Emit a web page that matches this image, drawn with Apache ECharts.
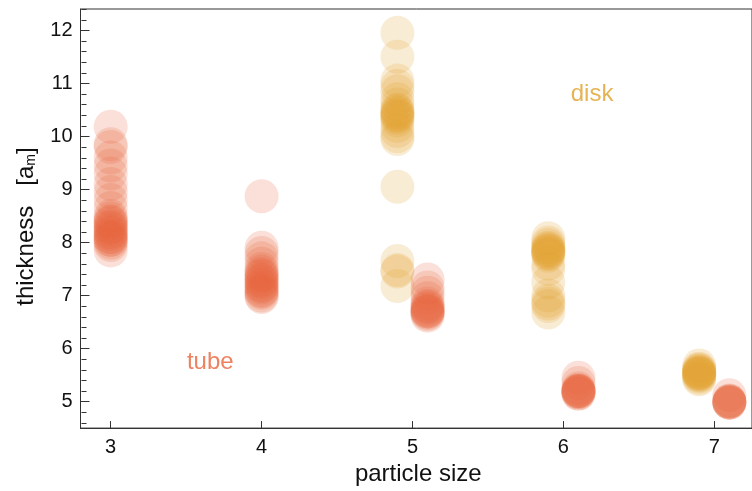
<!DOCTYPE html>
<html>
<head>
<meta charset="utf-8">
<script src="https://cdn.jsdelivr.net/npm/echarts@6/dist/echarts.min.js"></script>
<style>
    html, body { margin: 0; padding: 0; background: #fff; }
    #chart { width: 752px; height: 491px; }
</style>
</head>
<body>
<div id="chart"></div>
<script>
// tube points, one array per particle size
const tubeSizes = [3, 4, 5.1, 6.1, 7.1];
const tubeAt3 = [10.18, 9.85, 9.8, 9.6, 9.45, 9.3, 9.1, 8.95, 8.8, 8.65, 8.5, 8.45, 8.4, 8.38, 8.35, 8.3, 8.28, 8.25, 8.2, 8.18, 8.15, 8.1, 8.1, 8.05, 8.05, 8.0, 7.95, 7.85];
const tubeAt4 = [8.87, 7.9, 7.8, 7.7, 7.6, 7.5, 7.45, 7.4, 7.38, 7.35, 7.3, 7.28, 7.25, 7.2, 7.18, 7.15, 7.1, 7.08, 7.05, 7.0, 6.97];
const tubeAt5 = [7.3, 7.15, 7.05, 6.95, 6.85, 6.8, 6.78, 6.75, 6.72, 6.7, 6.7, 6.68, 6.65, 6.62];
const tubeAt6 = [5.45, 5.35, 5.25, 5.22, 5.2, 5.2, 5.2, 5.18, 5.18, 5.15, 5.15];
const tubeAt7 = [5.12, 5.02, 5.0, 5.0, 5.0, 4.98, 4.98, 4.98];

// disk points
const diskSizes = [4.9, 5.9, 6.9];
const diskAt5 = [11.95, 11.5, 11.05, 10.95, 10.85, 10.7, 10.6, 10.5, 10.48, 10.45, 10.42, 10.4, 10.38, 10.35, 10.3, 10.2, 10.1, 10.0, 9.95, 9.05, 7.65, 7.48, 7.45, 7.18];
const diskAt6 = [8.08, 8.0, 7.95, 7.9, 7.88, 7.85, 7.85, 7.82, 7.8, 7.78, 7.75, 7.6, 7.5, 7.25, 7.0, 6.9, 6.85, 6.8, 6.68];
const diskAt7 = [5.68, 5.62, 5.6, 5.58, 5.56, 5.55, 5.54, 5.53, 5.52, 5.5, 5.48, 5.45, 5.42];

// axes
const xRange = [2.8, 7.25];
const yRange = [4.5, 12.4];
const xTicks = [3, 4, 5, 6, 7];
const yTicks = [5, 6, 7, 8, 9, 10, 11, 12];

// annotations
const labelDisk = { text: 'disk', pos: [6.19, 10.8] };
const labelTube = { text: 'tube', pos: [3.66, 5.73] };

const tubeColor = '#e8633a';
const diskColor = '#e0a02c';
const font = 'Liberation Sans, Arial, Helvetica, sans-serif';

function toPoints (sizes, groups) {
    let out = [];
    sizes.forEach((x, i) => {
        groups[i].forEach(y => out.push([x, y]));
    });
    return out;
}

// minor ticks every 0.2 (drawn by a custom series on the left axis)
let yMinor = [];
for (let v = 46; v <= 124; v += 2) {
    if (v % 10 !== 0) {
        yMinor.push([xRange[0], v / 10]);
    }
}

const chart = echarts.init(document.getElementById('chart'));

chart.setOption({
    animation: false,
    textStyle: { fontFamily: font },
    grid: {
        left: 80.5, right: -1, top: 9, bottom: 61,
        show: true, borderColor: '#333', borderWidth: 1
    },
    xAxis: {
        type: 'value',
        min: xRange[0], max: xRange[1],
        name: 'particle size',
        nameLocation: 'middle',
        nameGap: 32,
        nameTextStyle: { fontSize: 24, color: '#111', fontFamily: font, padding: [0, 0, 0, 4] },
        splitLine: { show: false },
        axisLine: { lineStyle: { color: '#333' } },
        axisTick: { inside: true, length: 7, customValues: xTicks, lineStyle: { color: '#333' } },
        axisLabel: { customValues: xTicks, fontSize: 20, color: '#111', margin: 9, fontFamily: font }
    },
    yAxis: {
        type: 'value',
        min: yRange[0], max: yRange[1],
        name: 'thickness   [a{sub|m}]',
        nameLocation: 'middle',
        nameGap: 42,
        nameRotate: 90,
        nameTextStyle: {
            fontSize: 24, color: '#111', fontFamily: font,
            padding: [0, 16, 0, 0],
            rich: { sub: { fontSize: 14, color: '#111', padding: [10, 0, 0, 0], fontFamily: font } }
        },
        splitLine: { show: false },
        axisLine: { lineStyle: { color: '#333' } },
        axisTick: { inside: true, length: 9, customValues: yTicks, lineStyle: { color: '#333' } },
        axisLabel: { customValues: yTicks, fontSize: 20, color: '#111', margin: 8, fontFamily: font }
    },
    series: [{
        type: 'scatter',
        data: toPoints(diskSizes, [diskAt5, diskAt6, diskAt7]),
        symbolSize: 34,
        itemStyle: { color: diskColor, opacity: 0.2 }
    }, {
        type: 'scatter',
        data: toPoints(tubeSizes, [tubeAt3, tubeAt4, tubeAt5, tubeAt6, tubeAt7]),
        symbolSize: 34,
        itemStyle: { color: tubeColor, opacity: 0.2 }
    }, {
        type: 'scatter',
        symbolSize: 0,
        silent: true,
        data: [
            { value: labelDisk.pos, label: { formatter: labelDisk.text, color: diskColor } },
            { value: labelTube.pos, label: { formatter: labelTube.text, color: tubeColor } }
        ],
        label: { show: true, position: 'inside', fontSize: 24, fontFamily: font }
    }, {
        // 次刻度
        type: 'custom',
        silent: true,
        clip: false,
        data: yMinor,
        renderItem (params, api) {
            let p = api.coord([api.value(0), api.value(1)]);
            let x = Math.round(p[0]) + 0.5;
            let y = Math.round(p[1]) + 0.5;
            return {
                type: 'line',
                shape: { x1: x, y1: y, x2: x + 5, y2: y },
                style: { stroke: '#333', lineWidth: 1 }
            };
        }
    }]
});
</script>
</body>
</html>
